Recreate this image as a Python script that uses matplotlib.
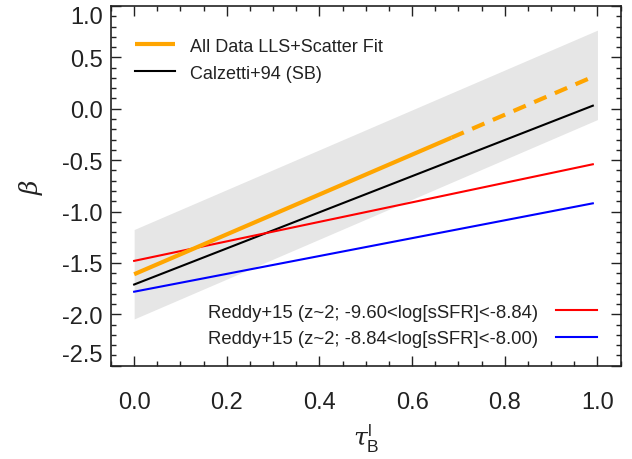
import matplotlib
matplotlib.use("Agg")
import matplotlib.pyplot as plt
import numpy as np
from matplotlib.ticker import MultipleLocator

plt.rcParams['font.family'] = ['Liberation Sans', 'DejaVu Sans']
plt.rcParams['mathtext.fontset'] = 'custom'
plt.rcParams['mathtext.rm'] = 'Liberation Sans'
plt.rcParams['mathtext.it'] = 'DejaVu Serif:italic'

# Data
tau_line = [0.0, 0.99]
fit_intercept = -1.61
fit_slope = 1.94
fit_solid_end = 0.685
scatter_halfwidth = 0.435
band_tau = [0.0, 1.0]
calzetti_beta = [-1.71, 0.03]
reddy_low_beta = [-1.48, -0.54]
reddy_high_beta = [-1.78, -0.92]

labels = ["All Data LLS+Scatter Fit", "Calzetti+94 (SB)",
          "Reddy+15 (z~2; -9.60<log[sSFR]<-8.84)",
          "Reddy+15 (z~2; -8.84<log[sSFR]<-8.00)"]
xticks = [0.0, 0.2, 0.4, 0.6, 0.8, 1.0]
yticks = [1.0, 0.5, 0.0, -0.5, -1.0, -1.5, -2.0, -2.5]

fig = plt.figure(figsize=(6.32, 4.60), dpi=100)
ax = fig.add_axes([0.1756, 0.2028, 0.982 - 0.1756, 0.9848 - 0.2028])

txtc = '#222222'

# gray scatter band
bt = np.array(band_tau)
ax.fill_between(bt, fit_intercept + fit_slope * bt - scatter_halfwidth,
                fit_intercept + fit_slope * bt + scatter_halfwidth,
                color='#e6e6e6', lw=0, zorder=1)

# orange fit: solid then dashed
ts = np.array([0.0, fit_solid_end])
td = np.array([fit_solid_end, tau_line[1]])
l_or, = ax.plot(ts, fit_intercept + fit_slope * ts, color='#FFA500', lw=3.0,
                solid_capstyle='butt', zorder=4)
ax.plot(td, fit_intercept + fit_slope * td, color='#FFA500', lw=3.0,
        dashes=(3.2, 2.2), zorder=4)
l_bk, = ax.plot(tau_line, calzetti_beta, color='black', lw=1.5, zorder=3)
l_rd, = ax.plot(tau_line, reddy_low_beta, color='#FF0000', lw=1.5, zorder=3)
l_bl, = ax.plot(tau_line, reddy_high_beta, color='#0000FF', lw=1.5, zorder=3)

ax.set_xlim(-0.05, 1.05)
ax.set_ylim(-2.5, 1.0)
ax.set_xticks(xticks)
ax.set_xticklabels([f"{v:.1f}" for v in xticks])
ax.set_yticks(yticks)
ax.set_yticklabels([f"{v:.1f}" for v in yticks])
ax.xaxis.set_minor_locator(MultipleLocator(0.05))
ax.yaxis.set_minor_locator(MultipleLocator(0.1))
ax.tick_params(which='both', direction='in', top=True, right=True, width=1.0,
               color='#222222')
ax.tick_params(which='major', length=7.2)
ax.tick_params(which='minor', length=3.6)
ax.tick_params(axis='x', which='major', pad=18, labelsize=17, labelcolor=txtc)
ax.tick_params(axis='y', which='major', pad=6, labelsize=17, labelcolor=txtc)
for s in ax.spines.values():
    s.set_linewidth(1.2)
    s.set_color('#222222')

ylabs = ax.get_yticklabels()
ylabs[0].set_va('top')
ylabs[-1].set_va('bottom')

ax.set_xlabel(r'$\tau_{\rm B}^{\rm l}$', fontsize=18, color=txtc, labelpad=6)
ax.set_ylabel(r'$\beta$', fontsize=18, color=txtc, labelpad=12)

leg1 = ax.legend([l_or, l_bk], labels[:2], loc='upper left',
                 bbox_to_anchor=(0.047, 0.912), frameon=False, fontsize=13,
                 handlelength=2.2, handletextpad=0.85, borderpad=0,
                 borderaxespad=0, labelspacing=0.55, labelcolor=txtc)
ax.add_artist(leg1)
ax.legend([l_rd, l_bl], labels[2:], loc='lower right',
          bbox_to_anchor=(0.9535, 0.052), frameon=False, fontsize=13.3,
          handlelength=2.2, handletextpad=1.0, borderpad=0,
          borderaxespad=0, labelspacing=0.5, markerfirst=False,
          labelcolor=txtc)

fig.savefig('out.png', dpi=100)
